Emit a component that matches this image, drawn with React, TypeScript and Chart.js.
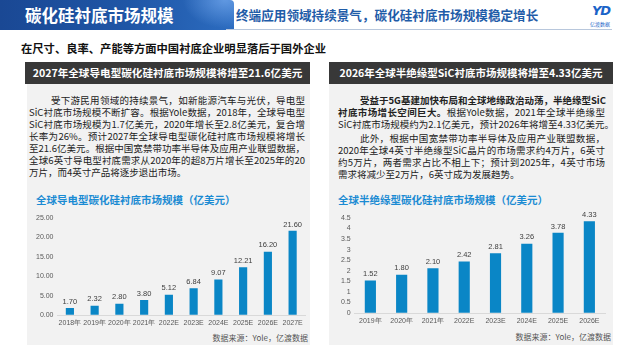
import React, { useEffect, useRef } from "react";
import { Chart, registerables } from "chart.js";

Chart.register(...registerables);

// ---------- data ----------
const leftCategories = ["2018年", "2019年", "2020年", "2021年", "2022E", "2023E", "2024E", "2025E", "2026E", "2027E"];
const leftValues = [1.7, 2.32, 2.8, 3.8, 5.12, 6.84, 9.07, 12.21, 16.2, 21.6];
const leftTickMax = 25;
const leftTickStep = 5;

const rightCategories = ["2019年", "2020年", "2021年", "2022E", "2023E", "2024E", "2025E", "2026E"];
const rightValues = [1.52, 1.8, 2.1, 2.42, 2.81, 3.26, 3.78, 4.33];
const rightTickMax = 4.5;
const rightTickStep = 0.5;

const leftParagraphLines = [
  "受下游民用领域的持续景气，如新能源汽车与光伏，导电型",
  "SiC衬底市场规模不断扩容。根据Yole数据，2018年，全球导电型",
  "SiC衬底市场规模为1.7亿美元，2020年增长至2.8亿美元，复合增",
  "长率为26%。预计2027年全球导电型碳化硅衬底市场规模将增长",
  "至21.6亿美元。根据中国宽禁带功率半导体及应用产业联盟数据，",
  "全球6英寸导电型衬底需求从2020年的超8万片增长至2025年的20",
  "万片，而4英寸产品将逐步退出市场。",
];

const FONT = "'Noto Sans CJK SC', 'Noto Sans', sans-serif";
const BAR_COLOR = "#0a86c6";
const TICK_FONT = "'Liberation Sans', Arial, sans-serif";

const valueLabelPlugin = {
  id: "valueLabels",
  afterDatasetsDraw(chart: any) {
    const ctx = chart.ctx;
    const meta = chart.getDatasetMeta(0);
    const data = chart.data.datasets[0].data as number[];
    ctx.save();
    ctx.font = "7.5px " + TICK_FONT;
    ctx.fillStyle = "#404040";
    ctx.textAlign = "center";
    ctx.textBaseline = "bottom";
    meta.data.forEach((bar: any, i: number) => {
      ctx.fillText(data[i].toFixed(2), bar.x, bar.y - 3);
    });
    ctx.restore();
  },
};

type BarProps = {
  categories: string[];
  values: number[];
  max: number;
  step: number;
  fmt: (v: number) => string;
  padLeft: number;
  xHeight: number;
  padTop: number;
  padRight: number;
  barThickness: number;
  width: number;
  height: number;
  left: number;
  top: number;
};

function BarChart(p: BarProps) {
  const ref = useRef<HTMLCanvasElement>(null);
  useEffect(() => {
    if (!ref.current) return;
    const chart = new Chart(ref.current, {
      type: "bar",
      data: {
        labels: p.categories,
        datasets: [
          {
            data: p.values,
            backgroundColor: BAR_COLOR,
            barThickness: p.barThickness,
          },
        ],
      },
      options: {
        responsive: false,
        animation: false,
        layout: { padding: { top: p.padTop, right: p.padRight, left: p.padLeft, bottom: 0 } },
        plugins: { legend: { display: false }, tooltip: { enabled: false } },
        scales: {
          x: {
            grid: { display: false, drawTicks: false },
            border: { display: true, color: "#d9d9d9", width: 1 },
            ticks: {
              color: "#595959",
              font: { size: 7, family: TICK_FONT },
              padding: 4,
              maxRotation: 0,
              autoSkip: false,
            },
            afterFit(scale: any) {
              scale.height = p.xHeight;
            },
          },
          y: {
            type: "linear",
            display: true,
            min: 0,
            max: p.max,
            grid: { display: true, drawOnChartArea: false, drawTicks: false, color: "rgba(0,0,0,0)" },
            border: { display: false },
            ticks: {
              display: true,
              stepSize: p.step,
              autoSkip: false,
              color: "#595959",
              font: { size: 7, family: TICK_FONT },
              padding: 4,
              callback: (v: any) => p.fmt(Number(v)),
            },
          },
        },
      },
      plugins: [valueLabelPlugin],
    });
    return () => chart.destroy();
  }, []);
  return (
    <canvas
      ref={ref}
      width={p.width}
      height={p.height}
      style={{ position: "absolute", left: p.left, top: p.top, width: p.width, height: p.height }}
    />
  );
}

function Line({ text, justify, indent, bold }: { text: React.ReactNode; justify: boolean; indent?: boolean; bold?: boolean }) {
  return (
    <div
      style={{
        height: 12,
        lineHeight: "12px",
        whiteSpace: "nowrap",
        textAlign: justify ? "justify" : "left",
        textAlignLast: justify ? "justify" : "left",
        paddingLeft: indent ? 22 : 0,
        fontWeight: bold ? 700 : 400,
      } as any}
    >
      {text}
    </div>
  );
}

export default function App() {
  return (
    <div
      style={{
        position: "fixed",
        left: 0,
        top: 0,
        width: 640,
        height: 360,
        background: "#ffffff",
        overflow: "hidden",
        fontFamily: FONT,
        color: "#222",
      }}
    >
      {/* Header banner */}
      <div
        style={{
          position: "absolute",
          left: 0,
          top: 0,
          width: 234,
          height: 30,
          background:
            "radial-gradient(ellipse 60px 40px at 225px 0px, rgba(140,190,255,0.55), rgba(140,190,255,0) 70%), linear-gradient(90deg, #1a4894 0%, #1f56a6 55%, #2c6cc0 100%)",
          borderTopRightRadius: 4,
        }}
      />
      <div
        style={{
          position: "absolute",
          left: 25,
          top: 4,
          fontSize: 16.5,
          fontWeight: 700,
          color: "#fff",
          lineHeight: "22px",
          letterSpacing: 0,
        }}
      >
        碳化硅衬底市场规模
      </div>
      <div
        style={{
          position: "absolute",
          left: 236,
          top: 6,
          fontSize: 12.6,
          fontWeight: 700,
          color: "#1f5ca8",
          lineHeight: "18px",
          whiteSpace: "nowrap",
        }}
      >
        终端应用领域持续景气，碳化硅衬底市场规模稳定增长
      </div>
      <div style={{ position: "absolute", left: 226, top: 29, width: 386, height: 1, background: "#b8c7dc" }} />
      {/* logo */}
      <div
        style={{
          position: "absolute",
          left: 588,
          top: 3,
          width: 26,
          textAlign: "center",
          fontFamily: "'DejaVu Sans', sans-serif",
          fontStyle: "italic",
          fontWeight: 700,
          fontSize: 13,
          lineHeight: "16px",
          color: "#1a63c8",
          letterSpacing: -1,
        }}
      >
        YD
      </div>
      <div
        style={{
          position: "absolute",
          left: 586,
          top: 20,
          width: 28,
          textAlign: "center",
          fontSize: 5,
          lineHeight: "7px",
          color: "#1a63c8",
          whiteSpace: "nowrap",
        }}
      >
        亿渡数据
      </div>

      {/* Subtitle */}
      <div
        style={{
          position: "absolute",
          left: 21,
          top: 40,
          fontSize: 11.3,
          fontWeight: 700,
          color: "#111",
          lineHeight: "16px",
          whiteSpace: "nowrap",
        }}
      >
        在尺寸、良率、产能等方面中国衬底企业明显落后于国外企业
      </div>

      {/* Left panel */}
      <div style={{ position: "absolute", left: 27, top: 84, width: 283, height: 261, background: "#f2f2f2" }} />
      <div
        style={{
          position: "absolute",
          left: 25,
          top: 62,
          width: 285,
          height: 22,
          background: "#383838",
          color: "#fff",
          fontWeight: 700,
          fontSize: 10.6,
          lineHeight: "22px",
          textAlign: "center",
          whiteSpace: "nowrap",
        }}
      >
        2027年全球导电型碳化硅衬底市场规模将增至21.6亿美元
      </div>
      <div style={{ position: "absolute", left: 29, top: 94, width: 276, fontSize: 9.5, color: "#222" }}>
        {leftParagraphLines.map((t, i) => (
          <Line key={i} text={t} justify={i < leftParagraphLines.length - 1} indent={i === 0} />
        ))}
      </div>
      <div
        style={{
          position: "absolute",
          left: 36,
          top: 193,
          fontSize: 10.5,
          fontWeight: 700,
          color: "#1b8bd3",
          lineHeight: "14px",
          whiteSpace: "nowrap",
        }}
      >
        全球导电型碳化硅衬底市场规模（亿美元）
      </div>
      <BarChart
        categories={leftCategories}
        values={leftValues}
        max={leftTickMax}
        step={leftTickStep}
        fmt={(v) => v.toFixed(2)}
        padLeft={5}
        xHeight={15}
        padTop={10}
        padRight={5}
        barThickness={7.5}
        width={283}
        height={122}
        left={27}
        top={208}
      />
      <div
        style={{
          position: "absolute",
          left: 27,
          top: 332,
          width: 281,
          textAlign: "right",
          fontSize: 8,
          lineHeight: "12px",
          color: "#555",
          whiteSpace: "nowrap",
        }}
      >
        数据来源：Yole，亿渡数据
      </div>

      {/* Right panel */}
      <div style={{ position: "absolute", left: 329, top: 84, width: 284, height: 261, background: "#f2f2f2" }} />
      <div
        style={{
          position: "absolute",
          left: 329,
          top: 62,
          width: 284,
          height: 22,
          background: "#383838",
          color: "#fff",
          fontWeight: 700,
          fontSize: 10.5,
          lineHeight: "22px",
          textAlign: "center",
          whiteSpace: "nowrap",
        }}
      >
        2026年全球半绝缘型SiC衬底市场规模将增至4.33亿美元
      </div>
      <div style={{ position: "absolute", left: 338, top: 94, width: 267, fontSize: 9.5, color: "#222" }}>
        <Line text="受益于5G基建加快布局和全球地缘政治动荡，半绝缘型SiC" justify indent bold />
        <Line
          text={
            <>
              <b>衬底市场增长空间巨大。</b>根据Yole数据，2021年全球半绝缘型
            </>
          }
          justify
        />
        <Line text="SiC衬底市场规模约为2.1亿美元，预计2026年将增至4.33亿美元。" justify={false} />
        <div style={{ height: 2 }} />
        <Line text="此外，根据中国宽禁带功率半导体及应用产业联盟数据，" justify indent />
        <Line text="2020年全球4英寸半绝缘型SiC晶片的市场需求约4万片，6英寸" justify />
        <Line text="约5万片，两者需求占比不相上下；预计到2025年，4英寸市场" justify />
        <Line text="需求将减少至2万片，6英寸成为发展趋势。" justify={false} />
      </div>
      <div
        style={{
          position: "absolute",
          left: 338,
          top: 193,
          fontSize: 10.5,
          fontWeight: 700,
          color: "#1b8bd3",
          lineHeight: "14px",
          whiteSpace: "nowrap",
        }}
      >
        全球半绝缘型碳化硅衬底市场规模（亿美元）
      </div>
      <BarChart
        categories={rightCategories}
        values={rightValues}
        max={rightTickMax}
        step={rightTickStep}
        fmt={(v) => String(Math.round(v * 10) / 10)}
        padLeft={8}
        xHeight={17}
        padTop={10}
        padRight={8}
        barThickness={10.5}
        width={284}
        height={122}
        left={329}
        top={208}
      />
      <div
        style={{
          position: "absolute",
          left: 329,
          top: 331,
          width: 282,
          textAlign: "right",
          fontSize: 8,
          lineHeight: "12px",
          color: "#555",
          whiteSpace: "nowrap",
        }}
      >
        数据来源：Yole，亿渡数据
      </div>
    </div>
  );
}
